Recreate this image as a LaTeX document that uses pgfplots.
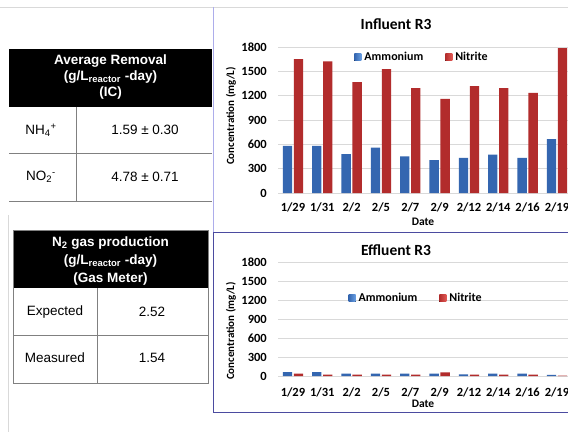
\documentclass[border=0pt]{standalone}
\usepackage{pgfplots}
\pgfplotsset{compat=1.18}
\usepackage{fontspec}
\setmainfont{Liberation Sans}
\newfontfamily\calfont{Carlito}
\definecolor{bdark}{HTML}{3466B0}
\definecolor{blight}{HTML}{6A9FE2}
\definecolor{rdark}{HTML}{B22C2C}
\definecolor{rlight}{HTML}{E25A56}
\definecolor{gridc}{HTML}{D9D9D9}
\definecolor{panelb}{HTML}{4B4BA0}
\definecolor{tline}{HTML}{808080}
\pgfplotsset{
 chartstyle/.style={
  scale only axis, width=293.3pt,
  xmin=-0.5, xmax=9.5, ymin=0, ymax=1800,
  ytick={0,300,...,1800},
  xtick={0,...,9},
  xticklabels={1/29,1/31,2/2,2/5,2/7,2/9,2/12,2/14,2/16,2/19},
  axis line style={draw=none},
  tick style={draw=none},
  ymajorgrids, grid style={gridc, line width=0.8pt},
  tick label style={font=\calfont\bfseries\fontsize{12.5}{14}\selectfont},
  /pgf/number format/assume math mode=true,
  /pgf/number format/1000 sep={},
  yticklabel style={xshift=-8pt},
  legend columns=2,
  legend style={draw=none, fill=none, font=\calfont\bfseries\fontsize{12}{14}\selectfont,
    /tikz/every odd column/.append style={column sep=1pt},
    /tikz/every even column/.append style={column sep=20pt}, anchor=center},
 },
 amm/.style={ybar, bar width=9.3pt, bar shift=-5.5pt, draw=none, left color=bdark, middle color=blight, right color=bdark,
   legend image code/.code={\fill[left color=bdark, right color=blight] (0pt,-3.5pt) rectangle (7pt,3.5pt);}},
 nit/.style={ybar, bar width=9.3pt, bar shift=5.5pt, draw=none, left color=rdark, middle color=rlight, right color=rdark,
   legend image code/.code={\fill[left color=rdark, right color=rlight] (0pt,-3.5pt) rectangle (7pt,3.5pt);}},
}
\begin{document}
\begin{tikzpicture}[x=1pt,y=1pt]
\path[use as bounding box] (0,0) rectangle (568,432);
\begin{scope}
\clip (0,0) rectangle (568,432);
\fill[white] (0,0) rectangle (568,432);
% frame lines
\draw[gray!30] (0,425) -- (570,425);
\draw[gray!30] (8,217) -- (8,0);
% Table 1
\fill[black] (9,325) rectangle (212,383);
\draw[tline, line width=0.7pt] (9,279) -- (212,279);
\draw[tline, line width=0.7pt] (9,231) -- (212,231);
\draw[tline, line width=0.7pt] (76,325) -- (76,231);
\begin{scope}[every node/.style={font=\fontsize{13.5}{15}\selectfont}]
\node[text=white, font=\bfseries\fontsize{13.5}{15}\selectfont] at (110.5,371) {Average Removal};
\node[text=white, font=\bfseries\fontsize{13.5}{15}\selectfont] at (110.5,355) {(g/L\textsubscript{reactor} -day)};
\node[text=white, font=\bfseries\fontsize{13.5}{15}\selectfont] at (110.5,339) {(IC)};
\node at (41,302) {NH\textsubscript{4}\textsuperscript{+}};
\node at (145,302) {1.59 ± 0.30};
\node at (41,255) {NO\textsubscript{2}\textsuperscript{-}};
\node at (145,255) {4.78 ± 0.71};
\end{scope}
% Table 2
\fill[black] (13,144) rectangle (208,202);
\draw[tline, line width=0.7pt] (13,49) rectangle (208,202);
\draw[tline, line width=0.7pt] (13,97) -- (208,97);
\draw[tline, line width=0.7pt] (97,144) -- (97,49);
\begin{scope}[every node/.style={font=\fontsize{13.5}{15}\selectfont}]
\node[text=white, font=\bfseries\fontsize{13.5}{15}\selectfont] at (110.5,189) {N\textsubscript{2} gas production};
\node[text=white, font=\bfseries\fontsize{13.5}{15}\selectfont] at (110.5,171) {(g/L\textsubscript{reactor} -day)};
\node[text=white, font=\bfseries\fontsize{13.5}{15}\selectfont] at (110.5,153) {(Gas Meter)};
\node at (55,120) {Expected};
\node at (152,120) {2.52};
\node at (55,74) {Measured};
\node at (152,74) {1.54};
\end{scope}
% panels
\draw[gray!40!blue!40] (213.5,425) -- (213.5,200);
\draw[panelb, line width=1pt] (213.5,200) -- (570,200);
\draw[panelb, line width=1pt] (213.5,200) -- (213.5,20) -- (570,20);
% Influent chart
\begin{axis}[chartstyle, height=146pt, at={(278.3pt,239pt)}, anchor=south west,
  xticklabel style={yshift=-6pt},
  legend style={at={(0.49,0.93)}}]
\addplot[amm] coordinates {(0,581) (1,581) (2,478) (3,560) (4,453) (5,404) (6,432) (7,474) (8,432) (9,663)};
\addlegendentry{Ammonium}
\addplot[nit] coordinates {(0,1652) (1,1623) (2,1367) (3,1528) (4,1293) (5,1161) (6,1318) (7,1293) (8,1235) (9,1787)};
\addlegendentry{Nitrite}
\end{axis}
\node[font=\calfont\bfseries\fontsize{15.5}{17}\selectfont] at (396,408) {Influent R3};
\node[font=\calfont\bfseries\fontsize{11.5}{13}\selectfont] at (423,210) {Date};
\node[font=\calfont\bfseries\fontsize{11}{13}\selectfont, rotate=90] at (231,316) {Concentration (mg/L)};
% Effluent chart
\begin{axis}[chartstyle, height=114pt, at={(278.3pt,56pt)}, anchor=south west,
  xticklabel style={yshift=-8pt},
  legend style={at={(0.47,0.68)}}]
\addplot[amm] coordinates {(0,63) (1,63) (2,37) (3,37) (4,37) (5,37) (6,26) (7,37) (8,37) (9,16)};
\addlegendentry{Ammonium}
\addplot[nit] coordinates {(0,37) (1,21) (2,21) (3,21) (4,21) (5,58) (6,21) (7,21) (8,21) (9,5)};
\addlegendentry{Nitrite}
\end{axis}
\node[font=\calfont\bfseries\fontsize{15.5}{17}\selectfont] at (396,182) {Effluent R3};
\node[font=\calfont\bfseries\fontsize{11.5}{13}\selectfont] at (423,28) {Date};
\node[font=\calfont\bfseries\fontsize{11}{13}\selectfont, rotate=90] at (231,101) {Concentration (mg/L)};
\end{scope}
\end{tikzpicture}
\end{document}
